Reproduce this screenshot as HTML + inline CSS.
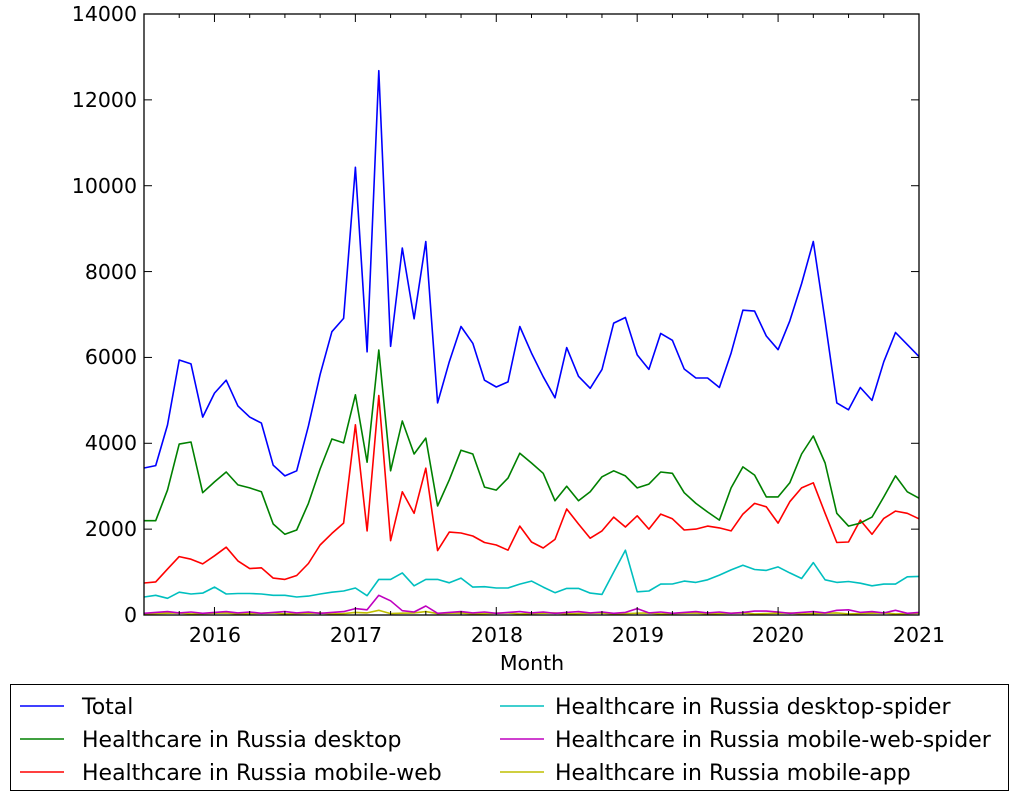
<!DOCTYPE html>
<html><head><meta charset="utf-8"><style>
html,body{margin:0;padding:0;background:#fff;}
svg{display:block;font-family:"DejaVu Sans","Liberation Sans",sans-serif;}
</style></head><body>
<svg id="s" width="1017" height="795" xmlns="http://www.w3.org/2000/svg">
<rect x="0" y="0" width="1017" height="795" fill="#fff"/>
<g id="lines" fill="none" stroke-width="1.6" stroke-linejoin="round"></g>
<rect x="144" y="14" width="775" height="601" fill="none" stroke="#000" stroke-width="1.3"/>
<g id="ticks" stroke="#000" stroke-width="1"></g>
<g font-size="20.5" fill="#000" text-anchor="end">
<text x="137" y="622">0</text>
<text x="137" y="536">2000</text>
<text x="137" y="450">4000</text>
<text x="137" y="364">6000</text>
<text x="137" y="279">8000</text>
<text x="137" y="193">10000</text>
<text x="137" y="107">12000</text>
<text x="137" y="21">14000</text>
</g>
<g font-size="20.5" fill="#000" text-anchor="middle">
<text x="215" y="642">2016</text>
<text x="356" y="642">2017</text>
<text x="497" y="642">2018</text>
<text x="638" y="642">2019</text>
<text x="778" y="642">2020</text>
<text x="919" y="642">2021</text>
<text x="532" y="670">Month</text>
</g>
<rect x="10.5" y="684.5" width="998" height="106" fill="none" stroke="#000" stroke-width="1"/>
<g stroke-width="1.6">
<line x1="20" y1="706" x2="64" y2="706" stroke="#0000ff"/>
<line x1="20" y1="739" x2="64" y2="739" stroke="#008000"/>
<line x1="20" y1="772" x2="64" y2="772" stroke="#ff0000"/>
<line x1="500" y1="706" x2="544" y2="706" stroke="#00bfbf"/>
<line x1="500" y1="739" x2="544" y2="739" stroke="#bf00bf"/>
<line x1="500" y1="772" x2="544" y2="772" stroke="#bfbf00"/>
</g>
<g font-size="22" fill="#000">
<text x="82" y="714">Total</text>
<text x="82" y="747">Healthcare in Russia desktop</text>
<text x="82" y="780">Healthcare in Russia mobile-web</text>
<text x="555" y="714">Healthcare in Russia desktop-spider</text>
<text x="555" y="747">Healthcare in Russia mobile-web-spider</text>
<text x="555" y="780">Healthcare in Russia mobile-app</text>
</g>
</svg>
<script>
var total=[3424,3480,4425,5940,5850,4610,5170,5470,4870,4610,4470,3490,3240,3360,4400,5600,6600,6910,10430,6130,12680,6260,8550,6900,8700,4940,5900,6720,6330,5470,5310,5430,6720,6100,5550,5060,6230,5560,5280,5720,6800,6930,6060,5720,6560,6400,5730,5520,5520,5300,6100,7100,7080,6500,6180,6850,7720,8700,6850,4940,4780,5300,5000,5900,6580,6300,6020];
var green=[2197,2197,2910,3980,4030,2850,3100,3330,3030,2960,2870,2120,1880,1980,2600,3400,4100,4010,5130,3560,6170,3360,4520,3750,4120,2540,3150,3840,3750,2980,2910,3190,3770,3540,3300,2660,3000,2660,2870,3220,3360,3240,2960,3050,3330,3300,2850,2600,2400,2210,2960,3450,3260,2750,2750,3080,3750,4170,3540,2370,2070,2140,2280,2750,3240,2870,2720];
var red=[745,770,1070,1360,1300,1190,1380,1580,1260,1080,1100,860,830,920,1200,1630,1900,2140,4430,1960,5110,1730,2870,2370,3420,1500,1930,1910,1840,1690,1630,1510,2070,1700,1560,1760,2470,2120,1790,1960,2280,2050,2310,2000,2350,2240,1980,2000,2070,2030,1960,2350,2600,2520,2140,2640,2960,3080,2370,1690,1700,2210,1880,2250,2420,2370,2240];
var cyan=[420,460,390,530,490,510,650,490,500,500,490,460,460,420,440,490,530,560,630,450,830,830,980,680,830,830,750,860,650,660,630,630,720,790,650,520,620,620,510,480,1000,1510,540,560,720,723,790,760,820,930,1050,1160,1060,1040,1120,980,850,1220,820,760,780,740,680,720,720,890,900];
var mag=[],yel=[];
for(var i=0;i<67;i++){mag.push(40+((i*37)%5)*10);yel.push(25+((i*53)%4)*8);}
var mb={18:150,19:120,20:460,21:330,22:100,23:70,24:210,42:150,52:90,53:90,59:110,60:120,64:110};
for(var k in mb)mag[k]=mb[k];
yel[20]=110;yel[18]=60;yel[24]=80;
function pts(a){return a.map(function(v,i){return (144+i*775/66).toFixed(1)+","+(615-v*601/14000).toFixed(1)}).join(" ");}
var g=document.getElementById("lines"),ns="http://www.w3.org/2000/svg";
[[yel,"#bfbf00"],[mag,"#bf00bf"],[cyan,"#00bfbf"],[red,"#ff0000"],[green,"#008000"],[total,"#0000ff"]].forEach(function(s){
var p=document.createElementNS(ns,"polyline");p.setAttribute("points",pts(s[0]));p.setAttribute("stroke",s[1]);g.appendChild(p);});
var t=document.getElementById("ticks");
function ln(x1,y1,x2,y2){var l=document.createElementNS(ns,"line");l.setAttribute("x1",x1);l.setAttribute("y1",y1);l.setAttribute("x2",x2);l.setAttribute("y2",y2);t.appendChild(l);}
for(var v=0;v<=14000;v+=2000){var y=615-v*601/14000;ln(144,y,152,y);ln(911,y,919,y);}
for(var i=0;i<=66;i+=3){var x=144+i*775/66;var len=((i-6)%12==0)?8:4;ln(x,615,x,615-len);ln(x,14,x,14+len);}
</script>
</body></html>
